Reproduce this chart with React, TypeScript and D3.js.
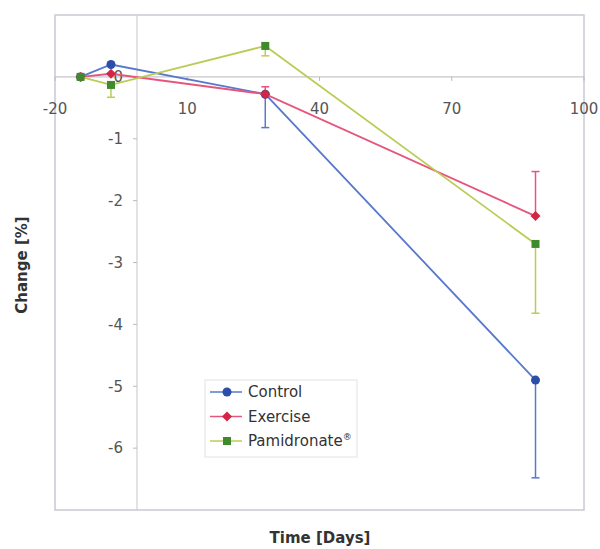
import React from "react";
import * as d3 from "d3";

const days = [-14.2, -7.3, 27.7, 89];
const controlValues = [0, 0.2, -0.28, -4.9];
const controlLow = [0, 0.2, -0.82, -6.48];
const controlHigh = [0, 0.2, -0.28, -4.9];
const exerciseValues = [0, 0.05, -0.28, -2.25];
const exerciseLow = [0, 0.05, -0.28, -2.25];
const exerciseHigh = [0, 0.05, -0.16, -1.53];
const pamidronateValues = [0, -0.13, 0.5, -2.7];
const pamidronateLow = [0, -0.33, 0.34, -3.82];
const pamidronateHigh = [0, -0.13, 0.5, -2.7];
const xTicks = [-20, 10, 40, 70, 100];
const yTicks = [0, -1, -2, -3, -4, -5, -6];
const yAxisCross = -1.4;

const series = [
  { name: "Control", values: controlValues, low: controlLow, high: controlHigh, line: "#5878cc", marker: "#2b4ea8", shape: "circle" },
  { name: "Exercise", values: exerciseValues, low: exerciseLow, high: exerciseHigh, line: "#e5557c", marker: "#d42545", shape: "diamond" },
  { name: "Pamidronate", values: pamidronateValues, low: pamidronateLow, high: pamidronateHigh, line: "#bccb55", marker: "#3f8a2c", shape: "square" },
];

function Marker({ shape, x, y, color }: { shape: string; x: number; y: number; color: string }) {
  if (shape === "circle") return <circle cx={x} cy={y} r={4.5} fill={color} />;
  if (shape === "diamond") return <path d={`M${x},${y - 5}L${x + 5},${y}L${x},${y + 5}L${x - 5},${y}Z`} fill={color} />;
  return <rect x={x - 4} y={y - 4} width={8} height={8} fill={color} />;
}

export default function App() {
  const left = 55, right = 584, top = 15, bottom = 510;
  const x = d3.scaleLinear().domain([-20, 100]).range([left, right]);
  const y = d3.scaleLinear().domain([-7, 1]).range([bottom, top]);
  const line = d3.line<number>().x((_, i) => x(days[i])).y((v) => y(v));
  const tickColor = "#555";
  const x0 = x(yAxisCross);
  return (
    <svg width={600} height={549} style={{ position: "absolute", left: 0, top: 0, fontFamily: "'DejaVu Sans', Verdana, sans-serif" }}>
      <rect x={0} y={0} width={600} height={549} fill="#fff" />
      <rect x={left} y={top} width={right - left} height={bottom - top} fill="none" stroke="#c9c9d3" strokeWidth={1.5} />
      {/* axes */}
      <line x1={left} x2={right} y1={y(0)} y2={y(0)} stroke="#c6c6cc" strokeWidth={1.2} />
      <line x1={x0} x2={x0} y1={top} y2={bottom} stroke="#cfcfd6" strokeWidth={1.2} />
      {yTicks.map((t) => (
        <g key={t}>
          <line x1={x0 - 4} x2={x0} y1={y(t)} y2={y(t)} stroke="#bbb" />
          <text x={x0 - 14} y={y(t)} dy="0.35em" textAnchor="end" fontSize={15} fill={tickColor}>{t === 0 ? "0" : `-${Math.abs(t)}`}</text>
        </g>
      ))}
      {xTicks.map((t) => (
        <g key={t}>
          <line x1={x(t)} x2={x(t)} y1={y(0)} y2={y(0) + 4} stroke="#bbb" />
          <text x={x(t)} y={y(0) + 37} textAnchor="middle" fontSize={15} fill={tickColor}>{t < 0 ? `-${Math.abs(t)}` : t}</text>
        </g>
      ))}
      {/* series */}
      {series.map((s) => (
        <g key={s.name}>
          {s.values.map((v, i) => (
            s.low[i] !== s.high[i] ? (
              <g key={i}>
                <line x1={x(days[i])} x2={x(days[i])} y1={y(s.low[i])} y2={y(s.high[i])} stroke={s.line} strokeWidth={1.5} />
                {s.low[i] < v && <line x1={x(days[i]) - 4} x2={x(days[i]) + 4} y1={y(s.low[i])} y2={y(s.low[i])} stroke={s.line} strokeWidth={1.5} />}
                {s.high[i] > v && <line x1={x(days[i]) - 4} x2={x(days[i]) + 4} y1={y(s.high[i])} y2={y(s.high[i])} stroke={s.line} strokeWidth={1.5} />}
              </g>
            ) : null
          ))}
          <path d={line(s.values) || ""} fill="none" stroke={s.line} strokeWidth={1.8} />
          {s.values.map((v, i) => (
            <Marker key={i} shape={s.shape} x={x(days[i])} y={y(v)} color={s.marker} />
          ))}
        </g>
      ))}
      {/* legend */}
      <rect x={205} y={380} width={152} height={77} fill="#fff" stroke="#e2e2e8" />
      {series.map((s, i) => {
        const ly = 392 + i * 24.5;
        return (
          <g key={s.name}>
            <line x1={210} x2={242} y1={ly} y2={ly} stroke={s.line} strokeWidth={1.5} />
            <Marker shape={s.shape} x={227} y={ly} color={s.marker} />
            <text x={248} y={ly} dy="0.35em" fontSize={15} fill="#333">
              {s.name}
              {s.name === "Pamidronate" && <tspan fontSize={9} dy={-6}>®</tspan>}
            </text>
          </g>
        );
      })}
      {/* titles */}
      <text transform="translate(27,265) rotate(-90)" textAnchor="middle" fontSize={15} fontWeight="bold" fill="#333">Change [%]</text>
      <text x={320} y={543} textAnchor="middle" fontSize={15} fontWeight="bold" fill="#333">Time [Days]</text>
    </svg>
  );
}
